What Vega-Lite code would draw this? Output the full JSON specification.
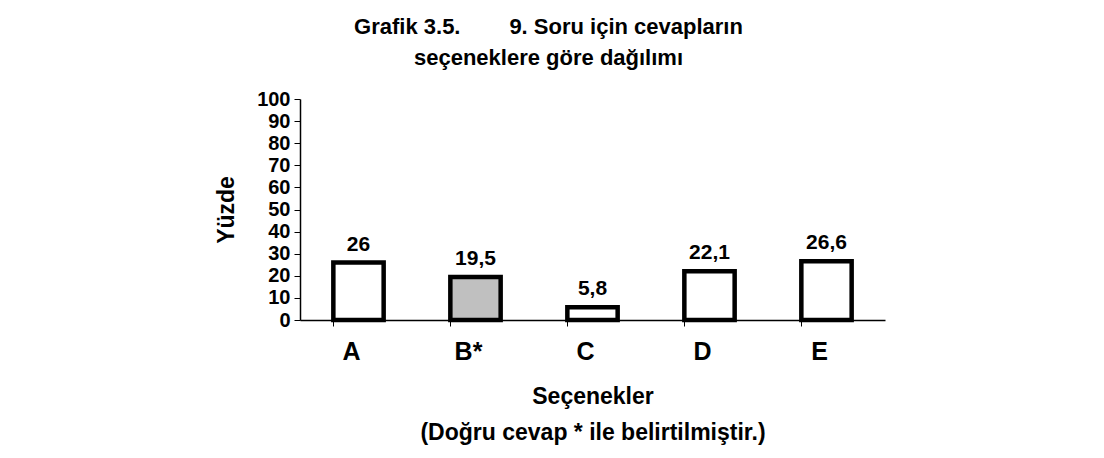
{
  "$schema": "https://vega.github.io/schema/vega-lite/v6.json",
  "width": 585,
  "height": 221,
  "autosize": "none",
  "padding": {"left": 300, "top": 99, "right": 219, "bottom": 138},
  "background": "white",
  "config": {
    "font": "Liberation Sans",
    "view": {"stroke": null},
    "locale": {"number": {"decimal": ",", "thousands": ".", "grouping": [3], "currency": ["", " TL"]}},
    "axis": {"domainColor": "black", "tickColor": "black", "labelColor": "black", "titleColor": "black", "grid": false, "labelFontWeight": "bold", "titleFontWeight": "bold"}
  },
  "title": {
    "text": ["Grafik 3.5.\u00a0\u00a0\u00a0\u00a0\u00a0\u00a0\u00a0 9. Soru için cevapların", "seçeneklere göre dağılımı"],
    "fontSize": 22,
    "fontWeight": "bold",
    "color": "black",
    "lineHeight": 31,
    "anchor": "middle",
    "dx": -44,
    "offset": 19
  },
  "data": {
    "values": [
      {"secenek": "A", "yuzde": 26},
      {"secenek": "B*", "yuzde": 19.5},
      {"secenek": "C", "yuzde": 5.8},
      {"secenek": "D", "yuzde": 22.1},
      {"secenek": "E", "yuzde": 26.6}
    ]
  },
  "encoding": {
    "x": {
      "field": "secenek",
      "type": "nominal",
      "sort": null,
      "scale": {"paddingInner": 0.57, "paddingOuter": 0.285},
      "axis": {
        "title": ["Seçenekler", "(Doğru cevap * ile belirtilmiştir.)"],
        "titleFontSize": 23,
        "titleLineHeight": 36,
        "titlePadding": 21,
        "labelFontSize": 25,
        "labelAngle": 0,
        "labelPadding": 13,
        "labelOffset": -7,
        "tickSize": 6,
        "bandPosition": 0,
        "domainWidth": 1.5
      }
    },
    "y": {
      "field": "yuzde",
      "type": "quantitative",
      "scale": {"domain": [0, 100], "nice": false},
      "axis": {
        "title": "Yüzde",
        "titleFontSize": 23,
        "titlePadding": 18,
        "values": [0, 10, 20, 30, 40, 50, 60, 70, 80, 90, 100],
        "labelFontSize": 20,
        "labelPadding": 4,
        "tickSize": 6,
        "domainWidth": 1.5
      }
    }
  },
  "layer": [
    {
      "mark": {"type": "bar", "stroke": "black", "strokeWidth": 4.5, "strokeJoin": "miter"},
      "encoding": {
        "fill": {
          "field": "secenek",
          "type": "nominal",
          "scale": {"domain": ["A", "B*", "C", "D", "E"], "range": ["white", "#c0c0c0", "white", "white", "white"]},
          "legend": null
        }
      }
    },
    {
      "mark": {"type": "text", "baseline": "bottom", "dy": -8, "fontSize": 21, "fontWeight": "bold", "color": "black"},
      "encoding": {
        "text": {"field": "yuzde", "type": "quantitative", "format": ".1~f"}
      }
    }
  ]
}
